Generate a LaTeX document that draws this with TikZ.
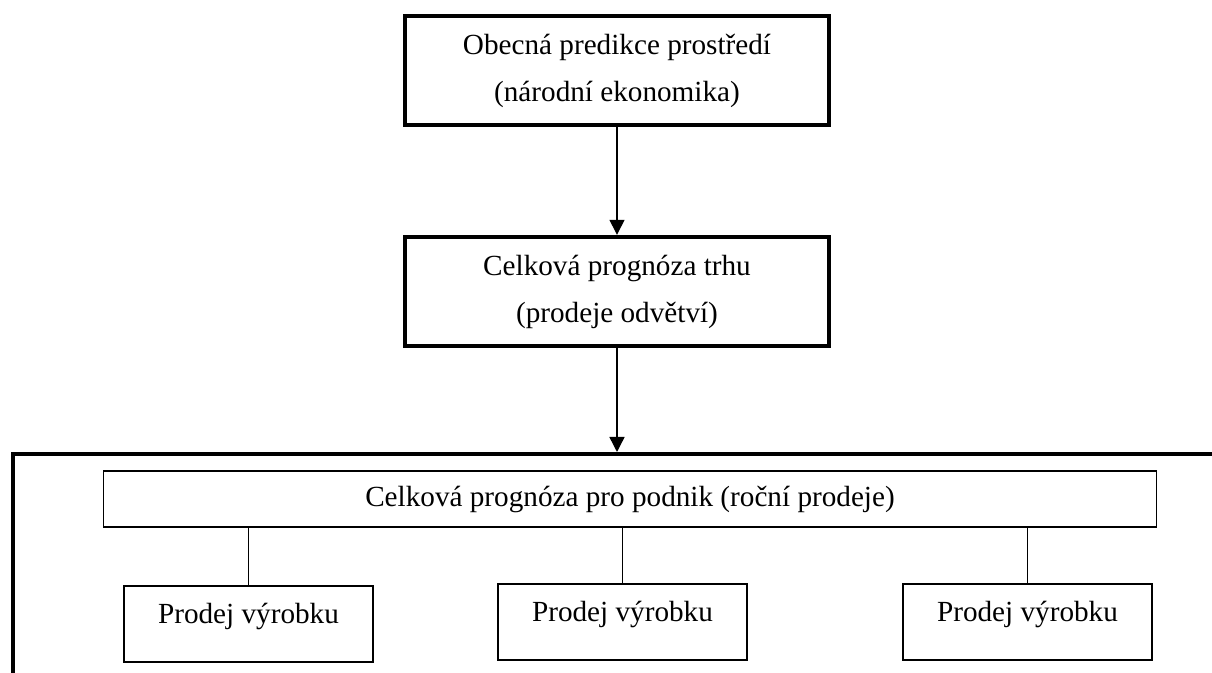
\documentclass[tikz,border=0pt]{standalone}
\usepackage{fontspec}
\setmainfont{Liberation Serif}
\usetikzlibrary{arrows.meta}

\begin{document}
\begin{tikzpicture}[x=0.5pt,y=-0.5pt]
  \useasboundingbox (0,0) rectangle (1212,673);
  \tikzstyle{bigbox} = [draw,line width=2.2pt,inner sep=0pt,align=center,
    minimum width=212pt,minimum height=54.5pt,
    font=\fontsize{14.6}{23.5}\selectfont]
  \tikzstyle{smallbox} = [draw,line width=0.6pt,inner sep=0pt,
    font=\fontsize{14.6}{17.5}\selectfont]
  \tikzstyle{flow} = [-{Triangle[length=7.5pt,width=7.5pt]},line width=0.7pt]

  \node[bigbox] (env) at (617,70.5) {Obecná predikce prostředí\\(národní ekonomika)};
  \node[bigbox] (market) at (617,291.5) {Celková prognóza trhu\\(prodeje odvětví)};

  % open frame of the firm
  \coordinate (firmleft) at (13,700);
  \coordinate (firmright) at (1240,454);
  \draw[line width=2.2pt] (firmleft) |- (firmright);
  \coordinate (firmtop) at (619,452);

  \node[smallbox,minimum width=526.5pt,minimum height=28pt] (firm) at (630,499)
    {Celková prognóza pro podnik (roční prodeje)};

  \foreach \l/\x/\y in {p1/248.5/624, p2/622.5/622, p3/1027.5/622} {
    \node[smallbox,minimum width=124.5pt,minimum height=38pt,
      text height=8pt,text depth=8pt] (\l) at (\x,\y) {Prodej výrobku};
  }

  \draw[flow] (env) -- (market);
  \draw[flow] (market.south) -- (market.south |- firmtop);
  \foreach \p in {p1,p2,p3} {
    \draw[line width=0.7pt] (\p.north) -- (\p.north |- firm.south);
  }
\end{tikzpicture}
\end{document}
